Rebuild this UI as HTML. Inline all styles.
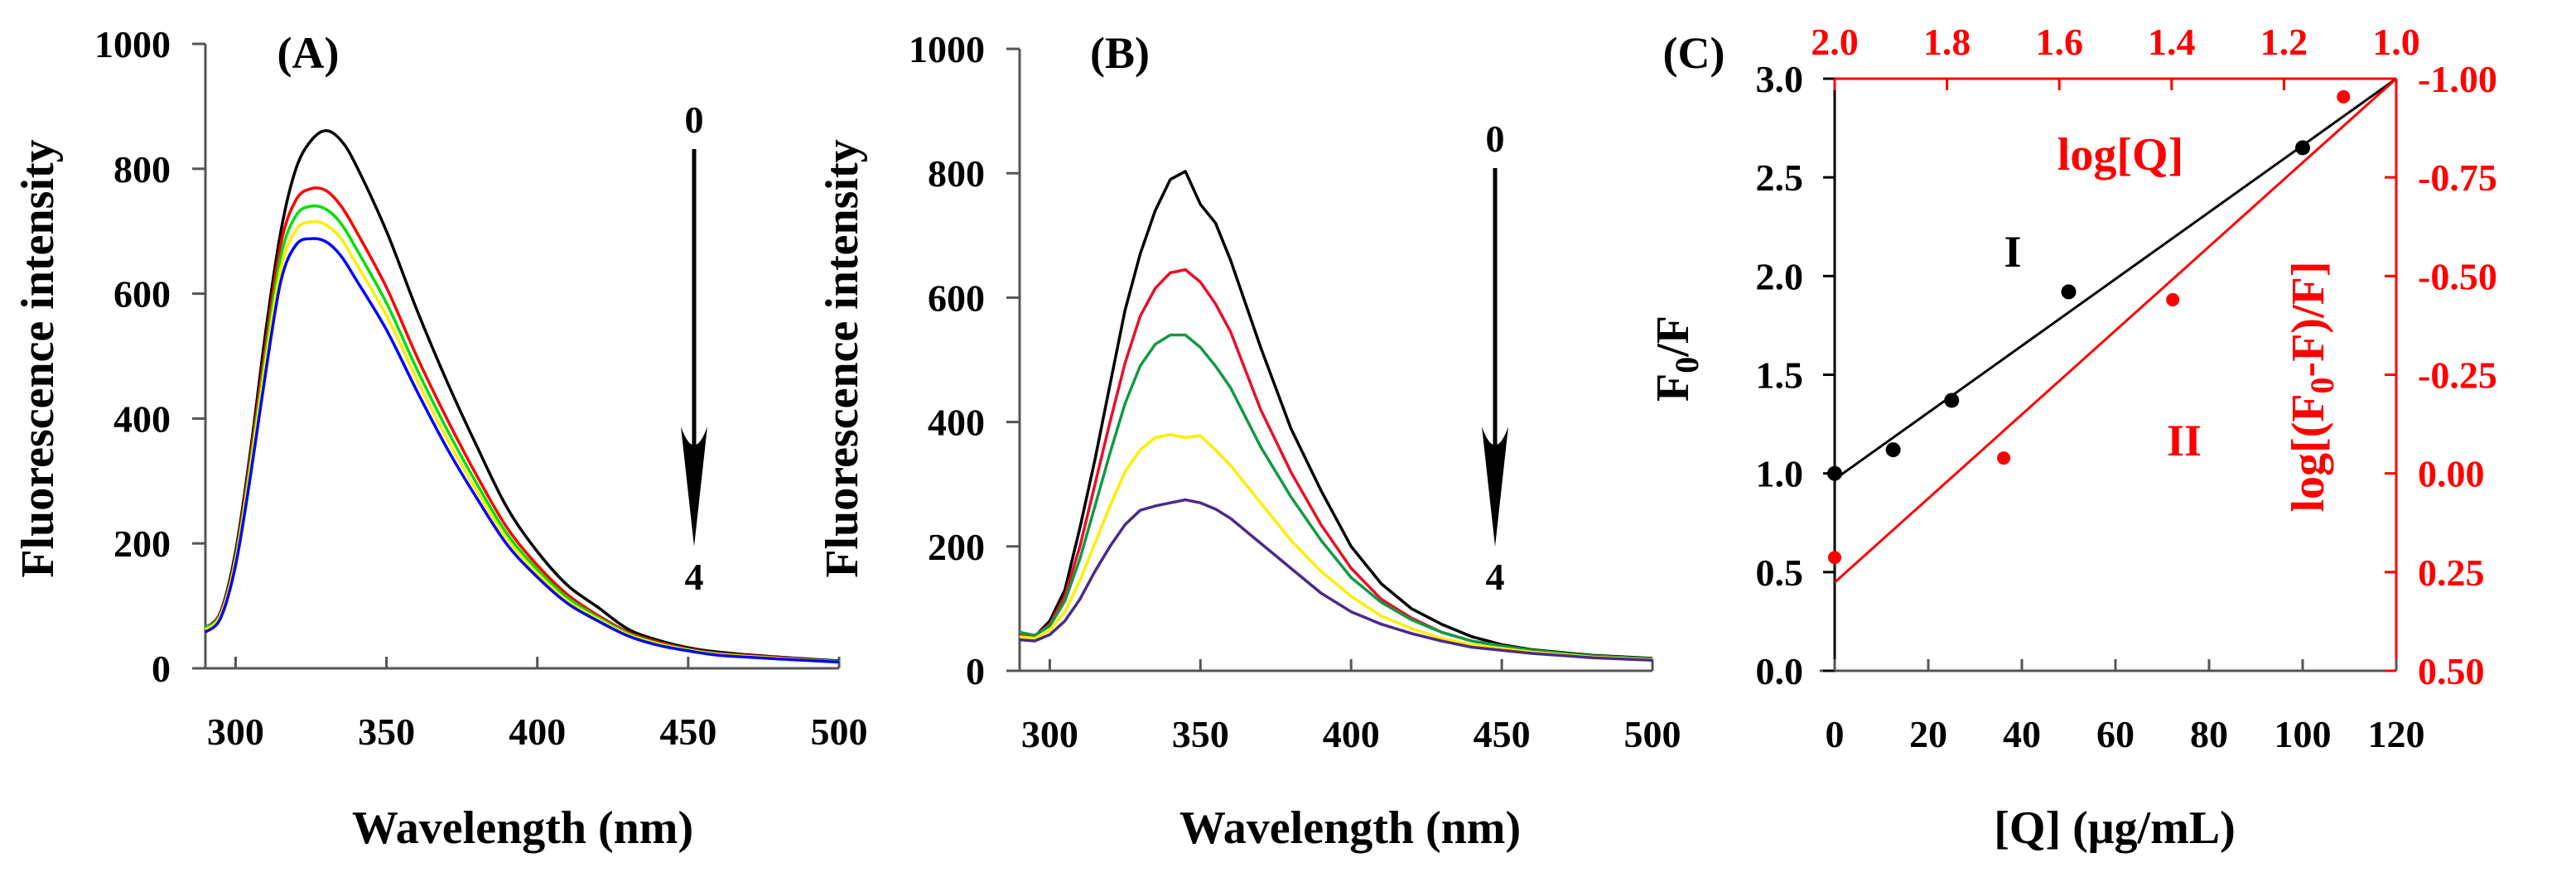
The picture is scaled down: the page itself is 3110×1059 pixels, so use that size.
<!DOCTYPE html>
<html><head><meta charset="utf-8"><style>
html,body{margin:0;padding:0;background:#fff;}
svg{display:block;font-family:"Liberation Serif",serif;font-weight:bold;}
</style></head><body>
<svg id="fig" width="3110" height="1059" viewBox="0 0 3110 1059" xmlns="http://www.w3.org/2000/svg"></svg>
<script>
// ---- Panel A data ----
const wlA = [290,295,300,305,310,315,320,325,330,335,340,350,360,370,380,390,400,410,420,430,440,450,460,480,500];
const a0 = [65,90,187,350,540,700,800,845,861,845,805,700,575,460,355,257,187,133,98,63,45,33,26,18,12];
const a1 = [65,88,180,340,520,680,750,768,765,740,700,610,500,400,308,225,165,118,85,58,42,31,24,17,11];
const a2 = [65,86,175,330,505,660,725,740,735,712,672,585,480,383,295,215,158,113,82,56,40,30,23,16,11];
const a3 = [62,84,172,322,492,640,702,715,710,688,648,565,463,368,283,207,152,108,79,54,39,29,22,16,10];
const a4 = [58,80,165,310,475,620,678,688,683,660,622,542,445,353,272,198,146,104,76,52,37,28,21,15,10];
// ---- Panel B data ----
const wlB = [290,295,300,305,310,315,320,325,330,335,340,345,350,355,360,370,380,390,400,410,420,430,440,450,460,480,500];
const b0 = [60,55,80,130,230,340,460,580,670,740,790,803,750,720,660,520,390,290,200,140,100,75,55,42,34,25,20];
const b1 = [58,56,75,120,200,300,400,495,570,615,640,645,625,590,545,420,320,235,165,115,85,62,48,40,33,24,19];
const b2 = [62,57,72,112,180,265,350,430,490,525,540,540,520,490,455,360,280,210,150,110,82,62,48,40,33,24,19];
const b3 = [55,52,65,95,145,205,265,320,355,375,380,375,378,355,330,270,210,160,120,88,68,52,42,36,30,22,18];
const b4 = [50,48,58,80,115,160,200,235,258,265,270,275,270,260,245,205,165,125,95,75,60,48,38,33,28,21,17];
const xTicksAB = [300,350,400,450,500];
const yTicksAB = [0,200,400,600,800,1000];
// ---- Panel C data ----
const qConc = [0,12.5,25,50,100];
const f0f = [1.0,1.12,1.37,1.92,2.65];
const fitI = [0.97,3.0];           // F0/F at Q=0 and Q=120
const logQ = [2.0,1.699,1.398,1.094];
const logRatio = [0.213,-0.039,-0.44,-0.954];
const fitII = [0.276,-1.0];        // log ratio at logQ=2.0 and 1.0
const xTicksC = [0,20,40,60,80,100,120];
const yTicksC = [0,0.5,1.0,1.5,2.0,2.5,3.0];
const topTicksC = [2.0,1.8,1.6,1.4,1.2,1.0];
const rightTicksC = [0.5,0.25,0,-0.25,-0.5,-0.75,-1.0];

const NS="http://www.w3.org/2000/svg";
const svg=document.getElementById('fig');
function mk(tag,attrs,parent){const e=document.createElementNS(NS,tag);for(const k in attrs)e.setAttribute(k,attrs[k]);(parent||svg).appendChild(e);return e;}
function txt(s,x,y,size,anchor,fill,parent,rot){const t=mk('text',{x:x,y:y,'font-size':size,'text-anchor':anchor||'middle',fill:fill||'#000'},parent);if(rot)t.setAttribute('transform','rotate(-90 '+x+' '+y+')');t.textContent=s;return t;}
function smoothPath(pts){
  let d='M'+pts[0][0].toFixed(1)+' '+pts[0][1].toFixed(1);
  for(let i=0;i<pts.length-1;i++){
    const p0=pts[Math.max(0,i-1)],p1=pts[i],p2=pts[i+1],p3=pts[Math.min(pts.length-1,i+2)];
    const c1x=p1[0]+(p2[0]-p0[0])/6,c1y=p1[1]+(p2[1]-p0[1])/6;
    const c2x=p2[0]-(p3[0]-p1[0])/6,c2y=p2[1]-(p3[1]-p1[1])/6;
    d+=` C${c1x.toFixed(1)} ${c1y.toFixed(1)} ${c2x.toFixed(1)} ${c2y.toFixed(1)} ${p2[0].toFixed(1)} ${p2[1].toFixed(1)}`;
  }
  return d;
}

function spectrumPanel(cfg){
  const g=mk('g',{});
  
  
  const sx=v=>cfg.x0+(v-290)/(500-290)*(cfg.x1-cfg.x0);
  const sy=v=>cfg.y0-(v/1000)*(cfg.y0-cfg.y1);
  const ax=mk('path',{d:`M${cfg.x0} ${cfg.y1} V${cfg.y0} H${cfg.x1}`,stroke:'#555',fill:'none','stroke-width':3},g);
  
  
  yTicksAB.forEach(v=>{
    mk('line',{x1:cfg.x0-16,x2:cfg.x0,y1:sy(v),y2:sy(v),stroke:'#555','stroke-width':3},g);
    const t=txt(String(v),cfg.x0-42,sy(v)+16,46,'end','#000',g);
    
    
  });
  xTicksAB.forEach(v=>{
    mk('line',{x1:sx(v),x2:sx(v),y1:cfg.y0,y2:cfg.y0-14,stroke:'#555','stroke-width':3},g);
    const t=txt(String(v),sx(v),cfg.y0+92,46,'middle','#000',g);
    
    
  });
  cfg.series.forEach((s,i)=>{
    const pts=s.vals.map((v,j)=>[sx(cfg.wl[j]),sy(v)]);
    const d=cfg.smooth?smoothPath(pts):pts.map((p,j)=>(j?'L':'M')+p[0].toFixed(1)+' '+p[1].toFixed(1)).join(' ');
    const p=mk('path',{d:d,stroke:s.color,fill:'none','stroke-width':3.5,'stroke-linejoin':'round'},g);
    
    
  });
  const xt=txt('Wavelength (nm)',cfg.xt,1018,56,'middle','#000',g);
  
  
  const yt=txt('Fluorescence intensity',cfg.ytx,433,56,'middle','#000',g,true);
  
  
  const lab=txt(cfg.label,cfg.labx,82,54,'middle','#000',g);
  
  
  const ar=mk('g',{},g);
  
  
  mk('line',{x1:cfg.arx,x2:cfg.arx,y1:cfg.ary,y2:600,stroke:'#000','stroke-width':5},ar);
  mk('path',{d:`M${cfg.arx} 660 L${cfg.arx-16} 515 Q${cfg.arx} 560 ${cfg.arx+16} 515 Z`,fill:'#000'},ar);
  const n0=txt('0',cfg.arx,cfg.n0y,46,'middle','#000',g);
  
  
  const n4=txt('4',cfg.arx,712,46,'middle','#000',g);
  
  
}

spectrumPanel({name:'panel-a',smooth:true,x0:248,x1:1013,y0:807,y1:53,wl:wlA,xt:631,ytx:64,label:'(A)',labx:372,arx:838,ary:180,n0y:160,
  series:[{vals:a0,color:'#000'},{vals:a1,color:'#ff0000'},{vals:a2,color:'#00e000'},{vals:a3,color:'#ffee00'},{vals:a4,color:'#0000ff'}]});
spectrumPanel({name:'panel-b',smooth:false,x0:1231,x1:1995,y0:810,y1:59,wl:wlB,xt:1630,ytx:1035,label:'(B)',labx:1352,arx:1805,ary:203,n0y:183,
  series:[{vals:b0,color:'#000'},{vals:b1,color:'#e8102a'},{vals:b2,color:'#119a44'},{vals:b3,color:'#ffee00'},{vals:b4,color:'#4b2a8a'}]});

// ---- Panel C ----
(function(){
  const g=mk('g',{});
  
  
  const X0=2215,X1=2893,Y0=810,Y1=95,R='#ff0000';
  const sx=v=>X0+v/120*(X1-X0);
  const sy=v=>Y0-v/3*(Y0-Y1);
  const lx=v=>X0+(2-v)/1*(X1-X0);
  const ly=v=>Y0-(0.5-v)/1.5*(Y0-Y1);
  mk('line',{x1:X0,x2:X0,y1:Y1,y2:Y0,stroke:'#000','stroke-width':3},g);
  mk('line',{x1:X0-18,x2:X1,y1:Y0,y2:Y0,stroke:'#555','stroke-width':3},g);
  mk('line',{x1:X0,x2:X1,y1:Y1,y2:Y1,stroke:R,'stroke-width':3},g);
  mk('line',{x1:X1,x2:X1,y1:Y1,y2:Y0,stroke:R,'stroke-width':3},g);
  yTicksC.forEach(v=>{
    mk('line',{x1:X0-14,x2:X0,y1:sy(v),y2:sy(v),stroke:'#000','stroke-width':3},g);
    const t=txt(v.toFixed(1),X0-38,sy(v)+16,46,'end','#000',g);
    
    
  });
  xTicksC.forEach(v=>{
    mk('line',{x1:sx(v),x2:sx(v),y1:Y0,y2:Y0-14,stroke:'#555','stroke-width':3},g);
    const t=txt(String(v),sx(v),Y0+92,46,'middle','#000',g);
    
    
  });
  topTicksC.forEach(v=>{
    mk('line',{x1:lx(v),x2:lx(v),y1:Y1,y2:Y1+14,stroke:R,'stroke-width':3},g);
    const t=txt(v.toFixed(1),lx(v),66,46,'middle',R,g);
    
    
  });
  rightTicksC.forEach(v=>{
    mk('line',{x1:X1-14,x2:X1,y1:ly(v),y2:ly(v),stroke:R,'stroke-width':3},g);
    const t=txt(v.toFixed(2),X1+26,ly(v)+16,46,'start',R,g);
    
    
  });
  const l1=mk('line',{x1:sx(0),y1:sy(fitI[0]),x2:sx(120),y2:sy(fitI[1]),stroke:'#000','stroke-width':3},g);
  
  
  const l2=mk('line',{x1:lx(2),y1:ly(fitII[0]),x2:lx(1),y2:ly(fitII[1]),stroke:R,'stroke-width':3},g);
  
  
  qConc.forEach((q,i)=>{
    const c=mk('circle',{cx:sx(q),cy:sy(f0f[i]),r:9,fill:'#000'},g);
    
    
  });
  logQ.forEach((q,i)=>{
    const c=mk('circle',{cx:lx(q),cy:ly(logRatio[i]),r:8,fill:R},g);
    
    
  });
  const lab=txt('(C)',2045,82,54,'middle','#000',g);
  
  
  const i1=txt('I',2430,322,54,'middle','#000',g);
  
  
  const i2=txt('II',2637,550,54,'middle',R,g);
  
  
  const lq=txt('log[Q]',2560,205,56,'middle',R,g);
  
  
  const xt=txt('[Q] (μg/mL)',2553,1018,56,'middle','#000',g);
  
  
  const yt=mk('text',{x:2038,y:433,'font-size':56,'text-anchor':'middle',transform:'rotate(-90 2038 433)'},g);
  yt.innerHTML='F<tspan font-size="40" dy="12">0</tspan><tspan dy="-12">/F</tspan>';
  
  
  const rt=mk('text',{x:2805,y:467,'font-size':56,'text-anchor':'middle',fill:R,transform:'rotate(-90 2805 467)'},g);
  rt.innerHTML='log[(F<tspan font-size="40" dy="12">0</tspan><tspan dy="-12">-F)/F]</tspan>';
  
  
})();
</script>
</body></html>
